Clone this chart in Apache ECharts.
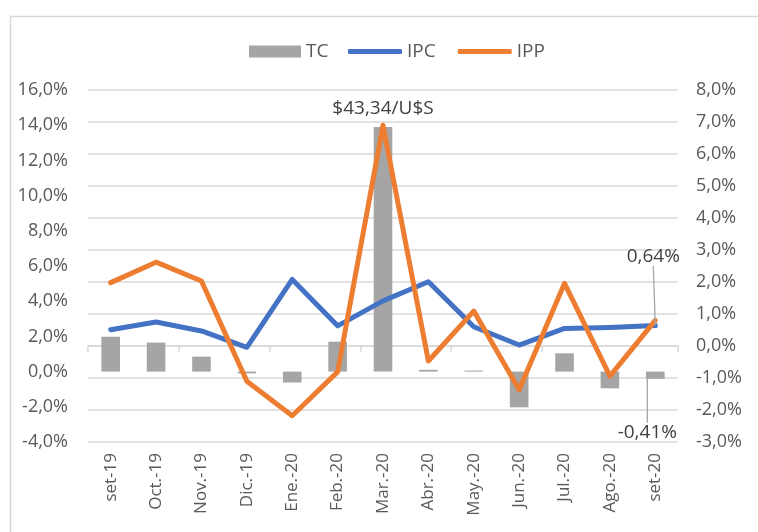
<!DOCTYPE html>
<html>
<head>
<meta charset="utf-8">
<script src="https://cdn.jsdelivr.net/npm/echarts@6/dist/echarts.min.js"></script>
<style>
  html, body { margin: 0; padding: 0; background: #fff; }
  #chart { width: 758px; height: 532px; }
</style>
</head>
<body>
<div id="chart"></div>
<script>
// months shown on the axis
const months = ["set-19", "Oct.-19", "Nov.-19", "Dic.-19", "Ene.-20", "Feb.-20", "Mar.-20",
                "Abr.-20", "May.-20", "Jun.-20", "Jul.-20", "Ago.-20", "set-20"];

// monthly variation, %  (TC on left axis, IPC / IPP on right axis)
const tcValues  = [1.98, 1.65, 0.85, -0.10, -0.62, 1.70, 13.90, 0.10, 0.06, -2.03, 1.04, -0.95, -0.41];
const ipcValues = [0.51, 0.75, 0.47, -0.04, 2.08, 0.63, 1.41, 2.01, 0.60, 0.03, 0.55, 0.58, 0.64];
const ippValues = [1.98, 2.62, 2.03, -1.10, -2.18, -0.81, 6.90, -0.47, 1.09, -1.37, 1.96, -0.94, 0.80];

// annotations
const tcPeakLabel = "$43,34/U$S";
const tcLastLabel = "-0,41%";
const ipcLastLabel = "0,64%";

(function(){
  const chart = echarts.init(document.getElementById("chart"));
  const txt = "#595959";
  const grid = "#D9D9D9";
  const font = "Open Sans";
  const pct = (v)=> v.toFixed(1).replace(".", ",") + "%";
  const last = months.length - 1;
  const peak = tcValues.indexOf(Math.max(...tcValues));

  const guide = { show: true, lineStyle: { color: "#A6A6A6", width: 1.3 } };

  const tcData = tcValues.map((v, i)=>{
    if (i === peak) {
      return { value: v, label: { show: true, position: "top", distance: 9, formatter: tcPeakLabel } };
    }
    if (i === last) {
      return { value: v, label: { show: true, position: "bottom", distance: 4, formatter: tcLastLabel },
               labelLine: guide };
    }
    return v;
  });

  const ipcData = ipcValues.map((v, i)=>{
    if (i !== last) return v;
    return { value: v, symbol: "circle", symbolSize: 1,
             label: { show: true, position: "top", distance: 4, formatter: ipcLastLabel },
             labelLine: guide };
  });

  const labelStyle = { color: "#404040", fontSize: 19, fontFamily: font };
  const legendText = { color: txt, fontSize: 19, fontFamily: font };

  chart.setOption({
    animation: false,
    textStyle: { fontFamily: font },
    graphic: [{
      type: "rect", left: 8, top: 14, silent: true,
      shape: { width: 800, height: 600 },
      style: { fill: "none", stroke: grid, lineWidth: 1.5 }
    }],
    legend: [{
      left: 244, top: 37,
      itemWidth: 52, itemHeight: 12, itemGap: 20,
      textStyle: legendText,
      data: [{ name: "TC", icon: "rect" }]
    }, {
      left: 343, top: 37,
      itemWidth: 54, itemHeight: 5, itemGap: 22,
      textStyle: legendText,
      data: [{ name: "IPC", icon: "roundRect" }, { name: "IPP", icon: "roundRect" }]
    }],
    grid: { left: 88, right: 80, top: 90, bottom: 90 },
    xAxis: [{
      type: "category", data: months, position: "bottom",
      axisLine: { show: false, onZero: false },
      axisTick: { show: false },
      axisLabel: { rotate: 90, margin: 11, color: txt, fontSize: 17, fontFamily: font }
    }, {
      type: "category", data: months, position: "bottom",
      axisLine: { show: true, onZero: true, onZeroAxisIndex: 1, lineStyle: { color: grid, width: 1.5 } },
      axisTick: { show: true, length: 6, lineStyle: { color: grid, width: 1.5 } },
      axisLabel: { show: false }
    }],
    yAxis: [{
      type: "value", min: -4, max: 16, interval: 2, position: "left",
      axisLine: { show: false }, axisTick: { show: false }, splitLine: { show: false },
      axisLabel: { margin: 20, color: txt, fontSize: 18, fontFamily: font, formatter: pct }
    }, {
      type: "value", min: -3, max: 8, interval: 1, position: "right",
      axisLine: { show: false }, axisTick: { show: false },
      splitLine: { show: true, lineStyle: { color: grid, width: 1.5 } },
      axisLabel: { margin: 18, color: txt, fontSize: 18, fontFamily: font, formatter: pct }
    }],
    series: [{
      name: "TC", type: "bar", xAxisIndex: 0, yAxisIndex: 0,
      barWidth: "41%",
      itemStyle: { color: "#A5A5A5" },
      label: labelStyle,
      data: tcData
    }, {
      name: "IPC", type: "line", xAxisIndex: 0, yAxisIndex: 1,
      symbol: "none", showSymbol: true,
      lineStyle: { color: "#4472C4", width: 5, join: "round", cap: "round" },
      itemStyle: { color: "#4472C4" },
      label: labelStyle,
      data: ipcData
    }, {
      name: "IPP", type: "line", xAxisIndex: 0, yAxisIndex: 1,
      symbol: "none",
      lineStyle: { color: "#ED7D31", width: 5, join: "round", cap: "round" },
      itemStyle: { color: "#ED7D31" },
      data: ippValues
    }],
    labelLayout: (p)=>{
      if (p.dataIndex !== last) return;
      if (p.seriesIndex === 0) return { dx: -8, dy: 40 };
      if (p.seriesIndex === 1) return { dx: -2, dy: -55 };
    }
  });
})();
</script>
</body>
</html>
